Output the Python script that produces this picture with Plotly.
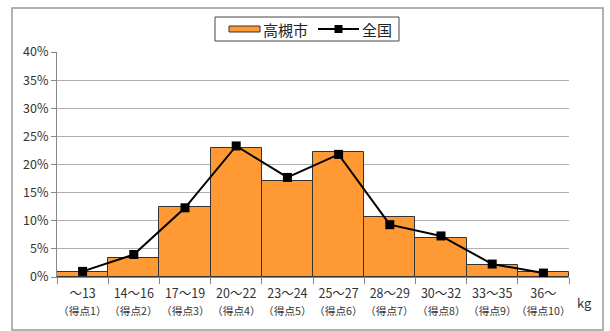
import plotly.graph_objects as go

# Grip-strength distribution (kg bands, score 1-10)
ranges = ["～13", "14～16", "17～19", "20～22", "23～24",
          "25～27", "28～29", "30～32", "33～35", "36～"]
scores = ["（得点1）", "（得点2）", "（得点3）", "（得点4）", "（得点5）",
          "（得点6）", "（得点7）", "（得点8）", "（得点9）", "（得点10）"]
takatsuki = [0.9, 3.3, 12.5, 22.9, 17.0, 22.3, 10.6, 6.9, 2.1, 0.9]
national = [1.0, 4.0, 12.3, 23.3, 17.7, 21.8, 9.3, 7.3, 2.3, 0.7]
y_ticks = [0, 5, 10, 15, 20, 25, 30, 35, 40]

FONT = "Noto Sans CJK JP, Liberation Sans, sans-serif"
ORANGE = "#FF9933"

# plot area in pixels: x 57..569, y 52..277
L, R, T, B, W, H = 57, 41, 52, 54, 610, 331
PW, PH = W - L - R, H - T - B


def px(x):
    return (x - L) / PW


def py(y):
    return (H - B - y) / PH


fig = go.Figure()
fig.add_trace(go.Bar(
    x=ranges, y=takatsuki, name="高槻市",
    marker=dict(color=ORANGE, line=dict(color="#333333", width=1)),
))
fig.add_trace(go.Scatter(
    x=ranges, y=national, name="全国", mode="lines+markers",
    line=dict(color="black", width=2),
    marker=dict(symbol="square", size=9, color="black"),
    cliponaxis=False,
))

shapes = [
    # outer chart frame
    dict(type="rect", xref="paper", yref="paper",
         x0=px(12), x1=px(603), y0=py(330), y1=py(8),
         line=dict(color="#999999", width=1.5), fillcolor="rgba(0,0,0,0)", layer="below"),
    # legend box
    dict(type="rect", xref="paper", yref="paper",
         x0=px(215), x1=px(399), y0=py(41), y1=py(17),
         line=dict(color="#444444", width=1), fillcolor="white"),
    # legend key: bar
    dict(type="rect", xref="paper", yref="paper",
         x0=px(229), x1=px(260), y0=py(32), y1=py(26),
         line=dict(color="#333333", width=1), fillcolor=ORANGE),
    # legend key: line with square marker
    dict(type="line", xref="paper", yref="paper",
         x0=px(318), x1=px(359), y0=py(29), y1=py(29),
         line=dict(color="black", width=2)),
    dict(type="rect", xref="paper", yref="paper",
         x0=px(334.5), x1=px(342.5), y0=py(33), y1=py(25),
         line=dict(color="black", width=0), fillcolor="black"),
]

annotations = [
    dict(text="高槻市", xref="paper", yref="paper", x=px(261), y=py(29),
         xanchor="left", yanchor="middle", showarrow=False,
         font=dict(size=15, color="#222222")),
    dict(text="全国", xref="paper", yref="paper", x=px(360), y=py(29),
         xanchor="left", yanchor="middle", showarrow=False,
         font=dict(size=15, color="#222222")),
    dict(text="kg", xref="paper", yref="paper", x=px(584), y=py(302),
         xanchor="center", yanchor="middle", showarrow=False,
         font=dict(size=13, color="#333333")),
]
# second row of category labels (score)
for cat, sc in zip(ranges, scores):
    annotations.append(dict(
        text=sc, xref="x", yref="paper", x=cat, y=py(310),
        xanchor="center", yanchor="middle", showarrow=False,
        font=dict(size=10.7, color="#333333"),
    ))

fig.update_layout(
    width=W, height=H,
    margin=dict(l=L, r=R, t=T, b=B),
    paper_bgcolor="white", plot_bgcolor="white",
    bargap=0,
    font=dict(family=FONT, size=11, color="#333333"),
    showlegend=False,
    xaxis=dict(
        type="category", range=[-0.5, len(ranges) - 0.5],
        tickson="boundaries", ticks="outside", ticklen=6,
        tickcolor="#888888", showline=True, linecolor="#888888",
        showgrid=False, tickfont=dict(size=12.5), tickangle=0, automargin=False,
        ticklabelstandoff=5,
    ),
    yaxis=dict(
        range=[0, 40], tickvals=y_ticks, ticktext=[f"{v}%" for v in y_ticks],
        ticks="outside", ticklen=5, tickcolor="#888888",
        showline=True, linecolor="#888888",
        showgrid=True, gridcolor="#B0B0B0", gridwidth=1, zeroline=False,
        tickfont=dict(size=12.5), automargin=False,
    ),
    shapes=shapes,
    annotations=annotations,
)

fig.write_html("out.html")
